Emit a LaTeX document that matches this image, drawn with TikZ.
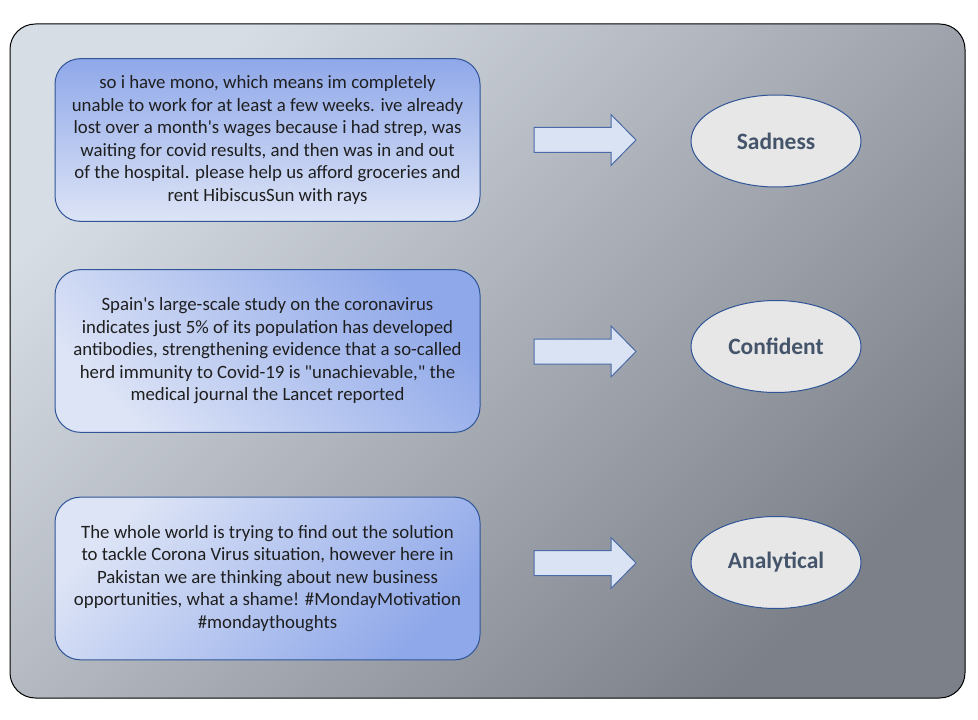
\documentclass[tikz,border=0pt]{standalone}
\usepackage{fontspec}
\setmainfont{Carlito}
\usetikzlibrary{shapes.geometric}
\definecolor{bgLight}{HTML}{D7DDE5}
\definecolor{bgDark}{HTML}{7C8088}
\definecolor{boxDark}{HTML}{8FA8E9}
\definecolor{boxLight}{HTML}{DDE4F6}
\definecolor{boxLine}{HTML}{2F5597}
\definecolor{arrFill}{HTML}{DAE3F3}
\definecolor{arrLine}{HTML}{4A6AA8}
\definecolor{ellFill}{HTML}{E7E7E7}
\definecolor{ellText}{HTML}{44546A}

\tikzset{
  tweet/.style={draw=boxLine, line width=0.75pt, rounded corners=19pt,
    minimum width=318.75pt, minimum height=122pt, align=center,
    font=\fontsize{14.1pt}{16.9pt}\selectfont, text=black!88},
  emotion/.style={ellipse, draw=boxLine, line width=0.75pt, fill=ellFill,
    minimum width=127.5pt, minimum height=69pt, text=ellText,
    font=\fontsize{17.6pt}{20pt}\selectfont\bfseries},
  blockarrow/.style={draw=arrLine, line width=0.75pt, fill=arrFill}
}

\begin{document}
\begin{tikzpicture}[x=0.75pt, y=-0.75pt]
\useasboundingbox (0,0) rectangle (978,720);
% frame
\draw[black, line width=0.75pt, rounded corners=19pt, top color=bgLight, bottom color=bgDark,
  shading angle=45] (10,24) rectangle (965,698);

% tweets
\node[tweet, top color=boxDark, bottom color=boxLight] (T1) at (267.5,140)
  {so i have mono, which means im completely\\ unable to work for at least a few weeks. ive already\\
   lost over a month\textquotesingle s wages because i had strep, was\\ waiting for covid results, and then was in and out\\
   of the hospital. please help us afford groceries and\\ rent HibiscusSun with rays};
\node[tweet, top color=boxDark, bottom color=boxLight, shading angle=-45] (T2) at (267.5,351)
  {Spain\textquotesingle s large-scale study on the coronavirus\\ indicates just 5\% of its population has developed\\
   antibodies, strengthening evidence that a so-called\\ herd immunity to Covid-19 is \textquotedbl unachievable,\textquotedbl{} the\\
   medical journal the Lancet reported};
\node[tweet, top color=boxLight, bottom color=boxDark, shading angle=45] (T3) at (267.5,578.5)
  {The whole world is trying to find out the solution\\ to tackle Corona Virus situation, however here in\\
   Pakistan we are thinking about new business\\ opportunities, what a shame! \#MondayMotivation\\
   \#mondaythoughts};

% emotions
\node[emotion] (E1) at (776,141) {Sadness};
\node[emotion] (E2) at (776,346.5) {Confident};
\node[emotion] (E3) at (776,562.5) {Analytical};

% arrows
\foreach \c in {140,351.5,563}
  \draw[blockarrow] (534,\c-12.5) -- (611,\c-12.5) -- (611,\c-25.5) -- (636,\c)
    -- (611,\c+25.5) -- (611,\c+12.5) -- (534,\c+12.5) -- cycle;
\end{tikzpicture}
\end{document}
